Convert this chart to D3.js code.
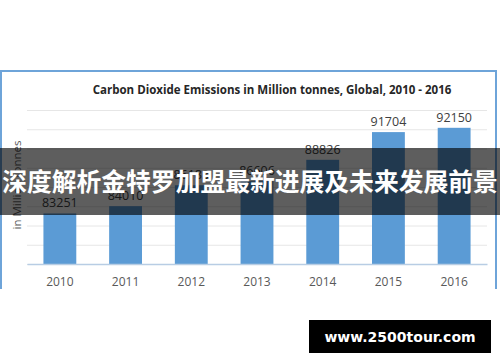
<!DOCTYPE html>
<html>
<head>
<meta charset="utf-8">
<script src="https://cdn.jsdelivr.net/npm/d3@7"></script>
<style>
  body { margin: 0; background: #fff; }
  svg { display: block; }
</style>
</head>
<body>
<div id="chart"></div>
<script>
// data
var years = ["2010", "2011", "2012", "2013", "2014", "2015", "2016"];
var emissions = [83251, 84010, 86183, 86606, 88826, 91704, 92150];
var yTicks = [78000, 80000, 82000, 84000, 86000, 88000, 90000, 92000, 94000];
var chartTitle = "Carbon Dioxide Emissions in Million tonnes, Global, 2010 - 2016";
var yLabel = "in Million tonnes";
var bannerText = "深度解析金特罗加盟最新进展及未来发展前景";
var siteText = "www.2500tour.com";

var W = 500, H = 362;
var plot = { left: 27, right: 487, top: 110, bottom: 264 };

var svg = d3.select("#chart").append("svg")
    .attr("width", W)
    .attr("height", H);

// chart frame (bottom edge is cut off in the picture)
svg.append("path")
    .attr("d", "M1,289 L1,71 L496,71 L496,289")
    .attr("fill", "none")
    .attr("stroke", "#6ea4d9")
    .attr("stroke-width", 2);

var x = d3.scaleBand()
    .domain(years)
    .range([plot.left, plot.right])
    .paddingInner(0.5)
    .paddingOuter(0.25);

var y = d3.scaleLinear()
    .domain([78000, 94000])
    .range([plot.bottom, plot.top]);

// gridlines
svg.append("g")
    .attr("transform", "translate(" + plot.left + ",0)")
    .call(d3.axisLeft(y).tickValues(yTicks).tickSize(-(plot.right - plot.left)).tickFormat(""))
    .call(function (g) { g.select(".domain").remove(); })
    .call(function (g) {
        g.selectAll(".tick line").attr("stroke", "#e6e6e6").attr("stroke-width", 1);
    });

// bars
svg.selectAll(".bar")
    .data(emissions)
    .enter().append("rect")
    .attr("class", "bar")
    .attr("x", function (d, i) { return x(years[i]); })
    .attr("width", x.bandwidth())
    .attr("y", function (d) { return y(d); })
    .attr("height", function (d) { return plot.bottom - y(d); })
    .attr("fill", "#5b9bd5");

// value labels
svg.selectAll(".val")
    .data(emissions)
    .enter().append("text")
    .attr("class", "val")
    .attr("x", function (d, i) { return x(years[i]) + x.bandwidth() / 2; })
    .attr("y", function (d) { return y(d) - 6; })
    .attr("text-anchor", "middle")
    .attr("font-family", "Open Sans, sans-serif")
    .attr("font-size", "12.5px")
    .attr("fill", "#404040")
    .text(function (d) { return d; });

// x axis
svg.append("g")
    .attr("transform", "translate(0," + plot.bottom + ")")
    .call(d3.axisBottom(x).tickSize(0).tickPadding(13))
    .call(function (g) {
        g.select(".domain").attr("stroke", "#b8cde4").attr("stroke-width", 1.5);
        g.selectAll(".tick text")
            .attr("font-family", "Open Sans, sans-serif")
            .attr("font-size", "12px")
            .attr("fill", "#595959");
    });

// y axis title
svg.append("text")
    .attr("transform", "translate(21,185) rotate(-90)")
    .attr("text-anchor", "middle")
    .attr("font-family", "Open Sans, sans-serif")
    .attr("font-size", "11.5px")
    .attr("fill", "#595959")
    .text(yLabel);

// chart title
var title = svg.append("text")
    .attr("x", 272)
    .attr("y", 94)
    .attr("text-anchor", "middle")
    .attr("font-family", "Open Sans, sans-serif")
    .attr("font-weight", "700")
    .attr("font-size", "13px")
    .attr("fill", "#262626")
    .text(chartTitle);
var tw = title.node().getComputedTextLength();
title.attr("font-size", (13 * 359 / tw) + "px");

// dark banner across the middle
svg.append("rect")
    .attr("x", 0)
    .attr("y", 148)
    .attr("width", W)
    .attr("height", 67)
    .attr("fill", "#000")
    .attr("fill-opacity", 0.63);

var banner = svg.append("text")
    .attr("x", W / 2)
    .attr("y", 191)
    .attr("text-anchor", "middle")
    .attr("font-family", "Noto Sans CJK SC, sans-serif")
    .attr("font-weight", "700")
    .attr("font-size", "25px")
    .attr("fill", "#fff")
    .text(bannerText);
var bw = banner.node().getComputedTextLength();
banner.attr("font-size", (25 * 496 / bw) + "px");

// site stamp
svg.append("rect")
    .attr("x", 309)
    .attr("y", 320)
    .attr("width", 182)
    .attr("height", 33)
    .attr("fill", "#000");

svg.append("text")
    .attr("x", 400)
    .attr("y", 342)
    .attr("text-anchor", "middle")
    .attr("font-family", "DejaVu Sans, sans-serif")
    .attr("font-weight", "700")
    .attr("font-size", "14px")
    .attr("fill", "#fff")
    .text(siteText);
</script>
</body>
</html>
